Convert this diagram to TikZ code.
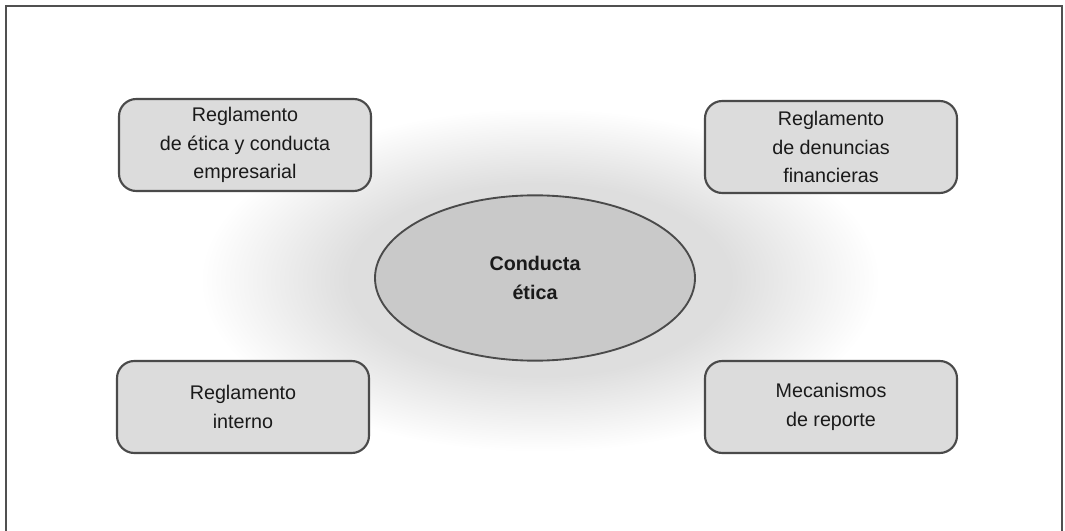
\documentclass[tikz,border=0pt]{standalone}
\usepackage{fontspec}
\setmainfont{Liberation Sans}
\usetikzlibrary{shapes.geometric}
\definecolor{framec}{HTML}{505050}
\definecolor{edgec}{HTML}{4A4A4A}
\definecolor{boxc}{HTML}{DCDCDC}
\definecolor{ellc}{HTML}{C9C9C9}
\definecolor{glowc}{HTML}{DEDEDE}
\definecolor{txtc}{HTML}{1A1A1A}
\pgfdeclareradialshading{glow}{\pgfpoint{0bp}{0bp}}{color(0bp)=(glowc); color(14bp)=(glowc); color(25bp)=(white); color(50bp)=(white)}
\tikzset{
  infobox/.style={draw=edgec, line width=1.6pt, fill=boxc, rounded corners=13pt,
    minimum width=189pt, minimum height=69pt, align=center, text=txtc,
    font=\fontsize{14.8}{21.5}\selectfont, inner sep=0pt},
  core/.style={ellipse, draw=edgec, line width=1.4pt, fill=ellc,
    minimum width=240pt, minimum height=124pt, align=center, text=txtc,
    font=\bfseries\fontsize{14.8}{21.8}\selectfont, inner sep=0pt}
}
\begin{document}
\begin{tikzpicture}[x=0.75pt,y=-0.75pt]
\useasboundingbox (0,0) rectangle (1065,531);
\fill[white] (0,0) rectangle (1065,531);
\shade[shading=glow] (200,108) rectangle (880,452);
\draw[framec, line width=2.2pt] (6,531) -- (6,6) -- (1062,6) -- (1062,531);
\node[core] (c) at (535,278) {Conducta\\ética};
\node[infobox] (tl) at (245,145) {Reglamento\\de ética y conducta\\empresarial};
\node[infobox] (tr) at (831,147) {Reglamento\\de denuncias\\financieras};
\node[infobox] (bl) at (243,407) {Reglamento\\interno};
\node[infobox] (br) at (831,407) {Mecanismos\\de reporte};
\end{tikzpicture}
\end{document}
